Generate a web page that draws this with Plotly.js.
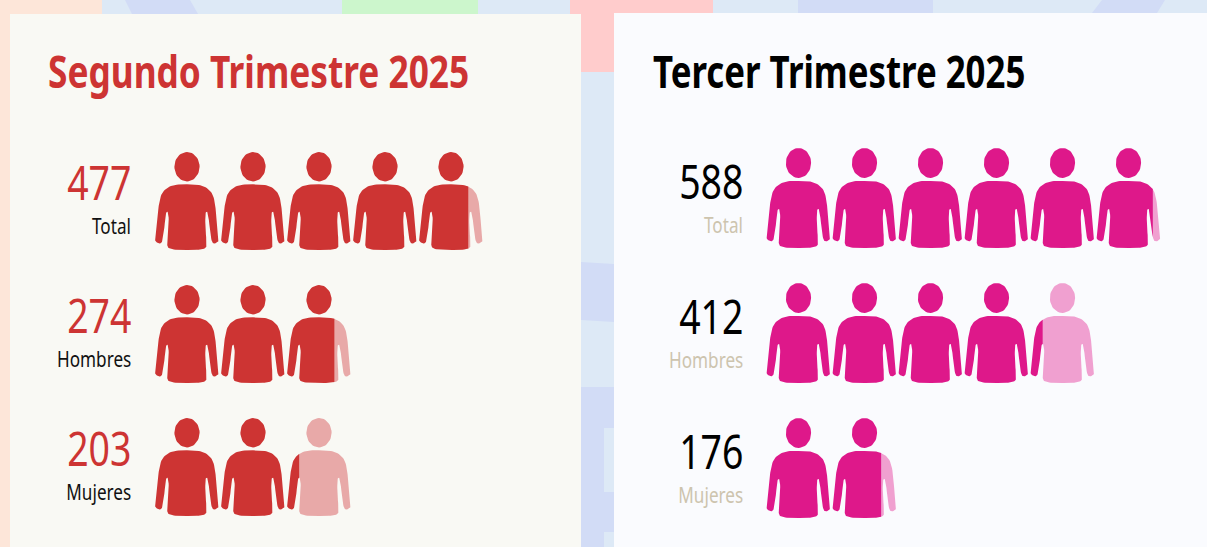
<!DOCTYPE html>
<html><head><meta charset="utf-8">
<script src="https://cdn.plot.ly/plotly-3.0.1.min.js"></script>
<style>html,body{margin:0;padding:0;background:#dde9f6;overflow:hidden}#chart{width:1207px;height:547px}</style>
</head><body><div id="chart"></div>
<script>
const categories = ['Total','Hombres','Mujeres'];
const q2Title = 'Segundo Trimestre 2025';
const q3Title = 'Tercer Trimestre 2025';
const q2Values = [477,274,203];
const q3Values = [588,412,176];
const personsPerIcon = 100;
const minPartial = 0.19;
const W = 1207, H = 547;
const FONT = 'Noto Sans';
const TEXT_SQUEEZE = 0.78;

// glyph outline in unit box (0..1 wide, 0..1 high), right half of the body, mirrored below
const halfBody = [[.5,.33],[.66,.333],[.79,.36],[.888,.42],[.936,.524],[.963,.694],[.995,.88],[.99,.91],[.945,.932],[.895,.92],[.865,.83],[.832,.643],[.81,.61],[.79,.633],[.787,.762],[.805,.915],[.805,.96],[.766,.986],[.633,1],[.5,1]];
function smooth(pts){const o=[];const n=pts.length;for(let i=0;i<n-1;i++){const p0=pts[Math.max(i-1,0)],p1=pts[i],p2=pts[i+1],p3=pts[Math.min(i+2,n-1)];for(let k=0;k<6;k++){const t=k/6,t2=t*t,t3=t2*t;o.push([0,1].map(d=>.5*(2*p1[d]+(p2[d]-p0[d])*t+(2*p0[d]-5*p1[d]+4*p2[d]-p3[d])*t2+(3*p1[d]-p0[d]-3*p2[d]+p3[d])*t3)));}}o.push(pts[n-1]);return o;}
const right = smooth(halfBody);
const body = right.concat(right.slice(1,-1).reverse().map(p=>[1-p[0],p[1]]));
const head = [];for(let i=0;i<48;i++){const a=i/48*2*Math.PI;head.push([.5+.197*Math.cos(a),.15+.15*Math.sin(a)]);}

function clip(poly,cut,keepLeft){const out=[];const inside=p=>keepLeft?p[0]<=cut:p[0]>=cut;for(let i=0;i<poly.length;i++){const a=poly[i],b=poly[(i+1)%poly.length];const ia=inside(a),ib=inside(b);if(ia)out.push(a);if(ia!==ib){const t=(cut-a[0])/(b[0]-a[0]);out.push([cut,a[1]+t*(b[1]-a[1])]);}}return out;}

function rowTraces(value,row,cfg){
  const units=value/personsPerIcon,whole=Math.floor(units);let frac=units-whole;if(frac>0)frac=Math.max(frac,minPartial);
  const n=whole+(frac>0?1:0);
  const d={x:[],y:[]},l={x:[],y:[]};
  const add=(t,poly,i)=>{if(!poly.length)return;poly.concat([poly[0]]).forEach(p=>{t.x.push(i+p[0]*cfg.w);t.y.push(row+p[1]*cfg.h);});t.x.push(null);t.y.push(null);};
  for(let i=0;i<n;i++){const f=i<whole?1:frac;[body,head].forEach(s=>{add(d,f>=1?s:clip(s,f,true),i);if(f<1)add(l,clip(s,f-0.012,false),i);});}
  const base={type:'scatter',mode:'lines',fill:'toself',hoverinfo:'skip',showlegend:false,xaxis:cfg.xa,yaxis:cfg.ya};
  return [Object.assign({},base,{x:l.x,y:l.y,fillcolor:cfg.light,line:{width:0,color:cfg.light}}),Object.assign({},base,{x:d.x,y:d.y,fillcolor:cfg.dark,line:{width:0,color:cfg.dark}})];
}
const panels=[
 {values:q2Values,title:q2Title,xa:'x',ya:'y',dark:'#cd3433',light:'#e8a9a8',x0:155,y0:152,pitchX:66,pitchY:133,gw:64,gh:98,numCol:'#cd3433',labCol:'#111111',titleCol:'#cd3433',textX:131,titleX:48,titleY:71,numY:29,labY:73,titleSize:45.2,panel:[10,14,581,547],bg:'#f9f9f4'},
 {values:q3Values,title:q3Title,xa:'x2',ya:'y2',dark:'#de188a',light:'#f0a0d0',x0:766.5,y0:148,pitchX:66,pitchY:135,gw:64,gh:100,numCol:'#000000',labCol:'#cdc4ae',titleCol:'#000000',textX:743,titleX:653,titleY:70,numY:32,labY:76,titleSize:44.6,panel:[614,13,1207,547],bg:'#fafbfe'}
];
const traces=[],annotations=[];
const fx=x=>x/W, fy=y=>1-y/H;
const bgRects=[[0,0,102,14,'#fde6d9'],[0,0,10,547,'#fde6d9'],[342,0,478,14,'#ccf6cc'],[570,0,713,72,'#ffcccc'],[798,0,933,13,'#d2dcf6'],[581,387,614,547,'#d2dcf6'],[604,428,614,492,'#dde9f6'],[604,532,614,547,'#dde9f6']];
const bgPolys=[[[125,0],[190,0],[198,14],[132,14],'#d2dcf6'],[[1102,0],[1165,0],[1157,13],[1092,13],'#d2dcf6'],[[581,262],[614,264],[614,322],[581,320],'#d2dcf6']];
const shapes=bgRects.map(r=>({type:'rect',xref:'paper',yref:'paper',x0:fx(r[0]),x1:fx(r[2]),y0:fy(r[1]),y1:fy(r[3]),fillcolor:r[4],line:{width:0},layer:'below'}));
bgPolys.forEach(p=>{const c=p[4];const pts=p.slice(0,4);shapes.push({type:'path',xref:'paper',yref:'paper',path:'M'+pts.map(q=>fx(q[0])+','+fy(q[1])).join('L')+'Z',fillcolor:c,line:{width:0},layer:'below'});});
const layout={width:W,height:H,margin:{l:0,r:0,t:0,b:0},paper_bgcolor:'#dde9f6',plot_bgcolor:'rgba(0,0,0,0)',showlegend:false,shapes,annotations};
panels.forEach((p,k)=>{
  shapes.push({type:'rect',xref:'paper',yref:'paper',x0:fx(p.panel[0]),x1:fx(p.panel[2]),y0:fy(p.panel[1]),y1:fy(p.panel[3]),fillcolor:p.bg,line:{width:0},layer:'below'});
  const axBase={showgrid:false,zeroline:false,showticklabels:false,ticks:'',showline:false,fixedrange:true};
  const sx=k?'2':'';
  layout['xaxis'+sx]=Object.assign({},axBase,{domain:[p.panel[0]/W,p.panel[2]/W],range:[(p.panel[0]-p.x0)/p.pitchX,(p.panel[2]-p.x0)/p.pitchX],anchor:'y'+sx});
  layout['yaxis'+sx]=Object.assign({},axBase,{domain:[0,1],range:[(H-p.y0)/p.pitchY,-p.y0/p.pitchY],anchor:'x'+sx});
  p.values.forEach((v,r)=>{
    rowTraces(v,r,{w:p.gw/p.pitchX,h:p.gh/p.pitchY,xa:p.xa,ya:p.ya,dark:p.dark,light:p.light}).forEach(t=>traces.push(t));
    const tx=(p.textX-p.x0)/p.pitchX;
    annotations.push({xref:p.xa,yref:p.ya,x:tx,y:r+p.numY/p.pitchY,xanchor:'right',yanchor:'middle',text:String(v),showarrow:false,xshift:2,font:{family:FONT,size:48,color:p.numCol}});
    annotations.push({xref:p.xa,yref:p.ya,x:tx,y:r+p.labY/p.pitchY,xanchor:'right',yanchor:'middle',text:categories[r],showarrow:false,xshift:2,font:{family:FONT,size:22,color:p.labCol}});
  });
  annotations.push({xref:'paper',yref:'paper',x:p.titleX/W,y:fy(p.titleY),xanchor:'left',yanchor:'middle',text:'<b>'+p.title+'</b>',showarrow:false,xshift:-2,font:{family:FONT,size:p.titleSize,color:p.titleCol}});
});
Plotly.newPlot('chart',traces,layout,{displayModeBar:false,staticPlot:true}).then(gd=>{
  // the reference text is horizontally condensed: squeeze each label about its anchor edge
  gd.querySelectorAll('.annotation-text').forEach(t=>{
    const b=t.getBBox();const isTitle=/Trimestre/.test(t.textContent);
    const ax=isTitle?b.x:b.x+b.width;
    t.setAttribute('transform',`translate(${ax},0) scale(${TEXT_SQUEEZE},1) translate(${-ax},0)`);
  });
});
</script></body></html>
